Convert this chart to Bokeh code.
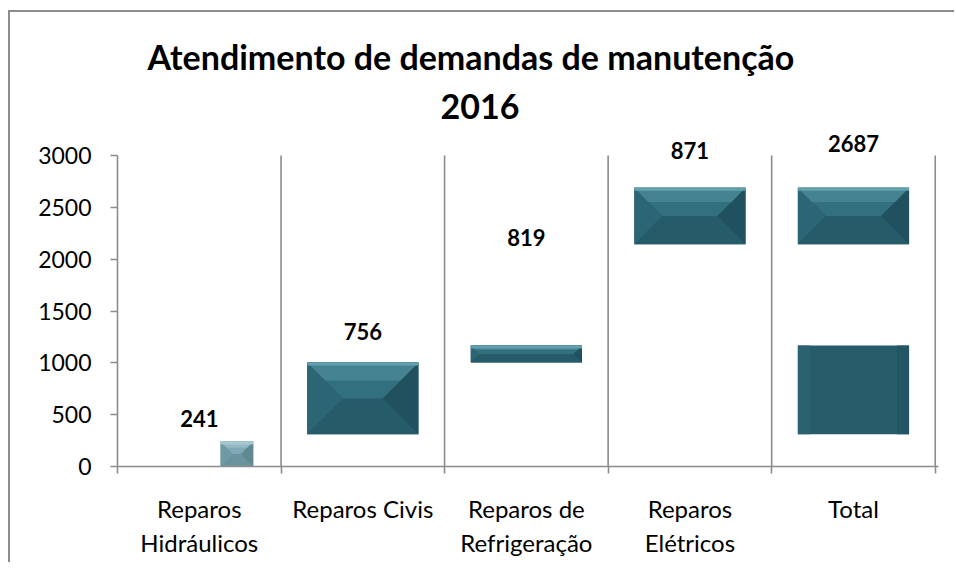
import numpy as np
from bokeh.plotting import figure
from bokeh.models import Range1d, FixedTicker, Title
from bokeh.core.properties import value
from bokeh.embed import file_html
from bokeh.resources import INLINE

# ---------------- data ----------------
categories = ["Reparos\nHidráulicos", "Reparos Civis", "Reparos de\nRefrigeração",
              "Reparos\nElétricos", "Total"]
label_values = [241, 756, 819, 871, 2687]
label_anchor = [463, 1302, 2209, 3048, 3116]      # height at which each data label sits
seg_category = [0, 1, 2, 3, 4, 4]
seg_bottom = [0, 310, 1003, 2144, 310, 2144]
seg_top = [241, 1003, 1167, 2688, 1167, 2688]
y_ticks = [0, 500, 1000, 1500, 2000, 2500, 3000]
title_lines = ["Atendimento de demandas de manutenção", "2016"]

# ---------------- layout ----------------
OX, OY = 10, 12            # canvas origin on the page
W, H = 946, 552
LEFT = 117 - OX
X_END = 5.02
frame_right = 935 + 0.02 * 163.6 - OX
RIGHT = int(round(W - frame_right))
TOP = 125 - OY
BOTTOM = H - (466 - OY)
FRAME_W = W - LEFT - RIGHT
FRAME_H = H - TOP - BOTTOM
Y_END = 3000 + (155 - 125) * 3000 / 311.0
ux = X_END / FRAME_W
uy = Y_END / FRAME_H

FONT = "Lato"
GRID = "#8c8c8c"

p = figure(width=W, height=H, output_backend="svg", toolbar_location=None,
           x_range=Range1d(0, X_END), y_range=Range1d(0, Y_END), title=None,
           min_border_left=LEFT, min_border_right=RIGHT,
           min_border_top=TOP, min_border_bottom=BOTTOM)
# chart-area frame: only its top and left edges fall inside the picture
p.styles = {"margin-left": f"{OX}px", "margin-top": f"{OY}px",
            "box-shadow": "-2px -2px 0 0 #8c8c8c"}
p.outline_line_color = None
p.background_fill_color = "white"
p.border_fill_color = "white"
p.grid.visible = False

n = len(categories)
centers = [i + 0.5 for i in range(n)]

# vertical separators
bounds = list(range(1, n + 1))
p.segment(x0=bounds, y0=[0] * len(bounds), x1=bounds, y1=[max(y_ticks)] * len(bounds),
          line_color=GRID, line_width=1.6)

# ---------------- bars with a pyramid bevel ----------------
bx_l, bx_r, bb, bt, bc = [], [], [], [], []
faces_xs, faces_ys, faces_c = [], [], []
hi_l, hi_r, hi_b, hi_t, hi_c = [], [], [], [], []
for k, (ci, b, t) in enumerate(zip(seg_category, seg_bottom, seg_top)):
    narrow = (ci == 0)
    c = centers[ci] + (0.23 if narrow else 0.0)
    half = (0.10 if narrow else 0.34)
    L, R = c - half, c + half
    if narrow:
        body, top_c, top2_c, left_c, right_c, bot_c, high = (
            "#6f98a3", "#80a9b3", "#93bac3", "#7199a4", "#5e8892", "#6a939e", "#a7c8d0")
    else:
        body, top_c, top2_c, left_c, right_c, bot_c, high = (
            "#275d6b", "#33707f", "#468392", "#2c6574", "#21515e", "#265b69", "#62a0ad")
    bx_l.append(L); bx_r.append(R); bb.append(b); bt.append(t); bc.append(body)
    h_px = (t - b) / uy
    w_px = (R - L) / ux
    covered_top = (ci == n - 1 and t < 2000)
    if covered_top:
        # only a soft horizontal shading (left lighter, right darker)
        s = 12
        faces_xs += [[L, L + s * ux, L + s * ux, L], [R - s * ux, R, R, R - s * ux]]
        faces_ys += [[t, t, b, b], [t, t, b, b]]
        faces_c += ["#2a6271", "#235664"]
        continue
    d = min(36.0, 0.5 * h_px, 0.5 * w_px)
    dx, dy = d * ux, d * uy
    faces_xs += [[L, L + dx, L + dx, L], [R, R - dx, R - dx, R], [L, R, R - dx, L + dx]]
    faces_ys += [[t, t - dy, b + dy, b], [t, t - dy, b + dy, b], [b, b, b + dy, b + dy]]
    faces_c += [left_c, right_c, bot_c]
    faces_xs.append([L, R, R - dx, L + dx])
    faces_ys.append([t, t, t - dy, t - dy])
    faces_c.append(top_c)
    d2 = 0.5
    faces_xs.append([L, R, R - d2 * dx, L + d2 * dx])
    faces_ys.append([t, t, t - d2 * dy, t - d2 * dy])
    faces_c.append(top2_c)
    hi_l.append(L); hi_r.append(R); hi_t.append(t); hi_b.append(t - 3 * uy); hi_c.append(high)

p.quad(left=bx_l, right=bx_r, bottom=bb, top=bt, fill_color=bc, line_color=None)
p.patches(xs=faces_xs, ys=faces_ys, fill_color=faces_c, line_color=None)
p.quad(left=hi_l, right=hi_r, bottom=hi_b, top=hi_t, fill_color=hi_c, line_color=None)

# data labels
p.text(x=centers, y=label_anchor, text=[str(v) for v in label_values],
       text_font=value(FONT), text_font_style="bold", text_font_size="22px",
       text_align="center", text_baseline="middle", text_color="black")

# ---------------- axes ----------------
xa = p.xaxis[0]
xa.ticker = FixedTicker(ticks=centers, minor_ticks=list(range(0, n + 1)))
xa.major_label_overrides = {c: lab for c, lab in zip(centers, categories)}
xa.major_tick_line_color = None
xa.minor_tick_line_color = GRID
xa.minor_tick_line_width = 1.6
xa.minor_tick_out = 7
xa.minor_tick_in = 0
xa.axis_line_color = GRID
xa.axis_line_width = 1.6
xa.major_label_text_font = FONT
xa.major_label_text_font_size = "24px"
xa.major_label_text_color = "black"
xa.major_label_text_line_height = 1.2
xa.major_label_standoff = 20

ya = p.yaxis[0]
ya.ticker = FixedTicker(ticks=y_ticks, minor_ticks=[])
ya.bounds = (min(y_ticks), max(y_ticks))
ya.axis_line_color = GRID
ya.axis_line_width = 1.6
ya.major_tick_line_color = GRID
ya.major_tick_line_width = 1.6
ya.major_tick_out = 7
ya.major_tick_in = 0
ya.minor_tick_line_color = None
ya.major_label_text_font = FONT
ya.major_label_text_font_size = "23px"
ya.major_label_text_color = "black"
ya.major_label_standoff = 19

# ---------------- titles (left-aligned with offsets so they centre at x≈472) ----------------
p.add_layout(Title(text=title_lines[1], align="left", text_font=FONT, text_font_style="bold",
                   text_font_size="34px", text_color="black", offset=323,
                   standoff=13), "above")
p.add_layout(Title(text=title_lines[0], align="left", text_font=FONT, text_font_style="bold",
                   text_font_size="34px", text_color="black", offset=30,
                   standoff=17), "above")

open("out.html", "w").write(file_html(p, INLINE))
